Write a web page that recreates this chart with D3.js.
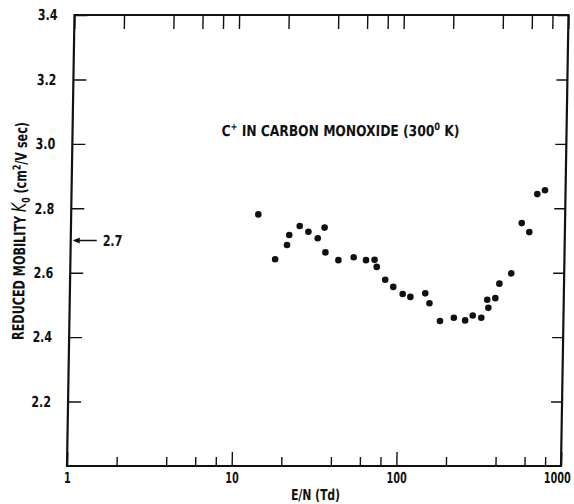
<!DOCTYPE html>
<head>
<meta charset="utf-8">
<style>
body {
    margin: 0;
    background: #fff;
}
text {
    font-family: "DejaVu Sans", sans-serif;
    font-weight: bold;
    fill: #111;
}
.tick line {
    stroke: #111;
    stroke-width: 1.4;
}
.domain {
    display: none;
}
</style>
</head>
<body>
<div class="viz"></div>
<script src="https://d3js.org/d3.v7.min.js"></script>
<script>
// E/N (Td) and reduced mobility
const fieldValues = [13.7, 17.5, 20.6, 21.2, 24.5, 27.7, 31.6, 34.7, 35.3, 42.4,
                     52.5, 62.4, 70.3, 72.6, 82.0, 91.9, 105, 117, 144, 153,
                     178, 216, 253, 281, 317, 343, 349, 384, 405, 477,
                     546, 608, 674, 750];
const mobilityValues = [2.781, 2.642, 2.686, 2.717, 2.745, 2.727, 2.707, 2.740, 2.663, 2.639,
                        2.648, 2.639, 2.640, 2.618, 2.578, 2.556, 2.534, 2.525, 2.536, 2.505,
                        2.450, 2.460, 2.452, 2.467, 2.460, 2.516, 2.491, 2.521, 2.566, 2.598,
                        2.754, 2.726, 2.844, 2.856];
const xMajorTicks = [1, 10, 100, 1000];
const xMinorTicks = [2, 4, 6, 8, 20, 40, 60, 80, 200, 400, 600, 800];
const yTicks = [2.2, 2.4, 2.6, 2.8, 3.0, 3.2, 3.4];
const markedValue = 2.7;

const W = 574, H = 504;
const margin = {left: 67, right: 561, top: 15, bottom: 466};

const svg = d3.select(".viz")
              .append("svg")
                  .attr("width", W)
                  .attr("height", H);

// the scan leans a little: verticals drift right towards the top
const g = svg.append("g")
             .attr("transform", "translate(0," + margin.bottom + ") skewX(-0.95) translate(0," + (-margin.bottom) + ")");

const x = d3.scaleLog()
            .domain([1, 1000])
            .range([margin.left, margin.right]);
const y = d3.scaleLinear()
            .domain([2.0, 3.4])
            .range([margin.bottom, margin.top]);

// the original lettering is a narrow bold face
function narrow(factor) {
    return function(sel) {
        sel.each(function() {
            const len = this.getComputedTextLength();
            d3.select(this)
              .attr("textLength", len * factor)
              .attr("lengthAdjust", "spacingAndGlyphs");
        });
    };
}

// bottom axis: labelled decades plus shorter minor ticks
g.append("g")
 .attr("transform", "translate(0," + margin.bottom + ")")
 .call(d3.axisBottom(x).tickValues(xMajorTicks).tickSize(-14).tickPadding(6).tickFormat(d3.format("d")))
 .call(s => s.selectAll("text").style("font-size", "15px").call(narrow(0.64)))
 .call(s => s.selectAll("text").filter(d => d === 1000).attr("dx", -4));
g.append("g")
 .attr("transform", "translate(0," + margin.bottom + ")")
 .call(d3.axisBottom(x).tickValues(xMinorTicks).tickSize(-9).tickFormat(""));

// top axis, ticks only
g.append("g")
 .attr("transform", "translate(0," + margin.top + ")")
 .call(d3.axisTop(x).tickValues(xMajorTicks.concat(xMinorTicks)).tickSize(-14).tickFormat(""));

g.append("g")
 .attr("transform", "translate(" + margin.left + ",0)")
 .call(d3.axisLeft(y).tickValues(yTicks).tickSize(-13).tickPadding(17).tickFormat(d3.format(".1f")))
 .call(s => s.selectAll("text").style("font-size", "15px").call(narrow(0.74)));
g.append("g")
 .attr("transform", "translate(" + margin.right + ",0)")
 .call(d3.axisRight(y).tickValues(yTicks).tickSize(-11).tickFormat(""));

// frame
g.append("rect")
 .attr("x", margin.left)
 .attr("y", margin.top)
 .attr("width", margin.right - margin.left)
 .attr("height", margin.bottom - margin.top)
 .attr("fill", "none")
 .attr("stroke", "#111")
 .attr("stroke-width", 2.2);

// data points
g.selectAll(".dot")
 .data(fieldValues)
 .enter()
 .append("circle")
     .attr("class", "dot")
     .attr("cx", d => x(d))
     .attr("cy", (d, i) => y(mobilityValues[i]))
     .attr("r", 3.3)
     .attr("fill", "#111");

// arrow marking 2.7 on the left axis
const ay = y(markedValue);
g.append("line")
 .attr("x1", margin.left + 4)
 .attr("x2", margin.left + 26)
 .attr("y1", ay)
 .attr("y2", ay)
 .attr("stroke", "#111")
 .attr("stroke-width", 1.4);
g.append("path")
 .attr("d", "M" + (margin.left + 2) + "," + ay + "l7,-3l0,6z")
 .attr("fill", "#111");
g.append("text")
 .attr("x", margin.left + 32)
 .attr("y", ay)
 .attr("dy", "0.36em")
 .style("font-size", "15px")
 .text(markedValue.toFixed(1))
 .call(narrow(0.74));

// title, squeezed horizontally as a group
const titleG = g.append("g");
const title = titleG.append("text")
                    .style("font-size", "15px");
title.append("tspan").text("C");
title.append("tspan").attr("dy", -6).style("font-size", "10px").text("+");
title.append("tspan").attr("dy", 6).text(" IN CARBON MONOXIDE (300");
title.append("tspan").attr("dy", -6).style("font-size", "10px").text("0");
title.append("tspan").attr("dy", 6).text(" K)");
titleG.attr("transform", "translate(216,136) scale(0.82,1)");

// axis titles
g.append("text")
 .attr("x", 316)
 .attr("y", 500)
 .attr("text-anchor", "middle")
 .style("font-size", "15px")
 .text("E/N (Td)")
 .call(narrow(0.72));

const ylabG = g.append("g")
               .attr("transform", "translate(21.5,231) rotate(-90) scale(0.7,1)");
const ylab = ylabG.append("text")
                  .attr("text-anchor", "middle")
                  .style("font-size", "16px");
ylab.append("tspan").text("REDUCED MOBILITY ");
ylab.append("tspan").style("font-style", "italic").style("font-weight", "normal").style("font-size", "20px").text("K");
ylab.append("tspan").attr("dy", 4).style("font-size", "11px").text("0");
ylab.append("tspan").attr("dy", -4).text(" (cm");
ylab.append("tspan").attr("dy", -6).style("font-size", "11px").text("2");
ylab.append("tspan").attr("dy", 6).text("/V sec)");
</script>
</body>
